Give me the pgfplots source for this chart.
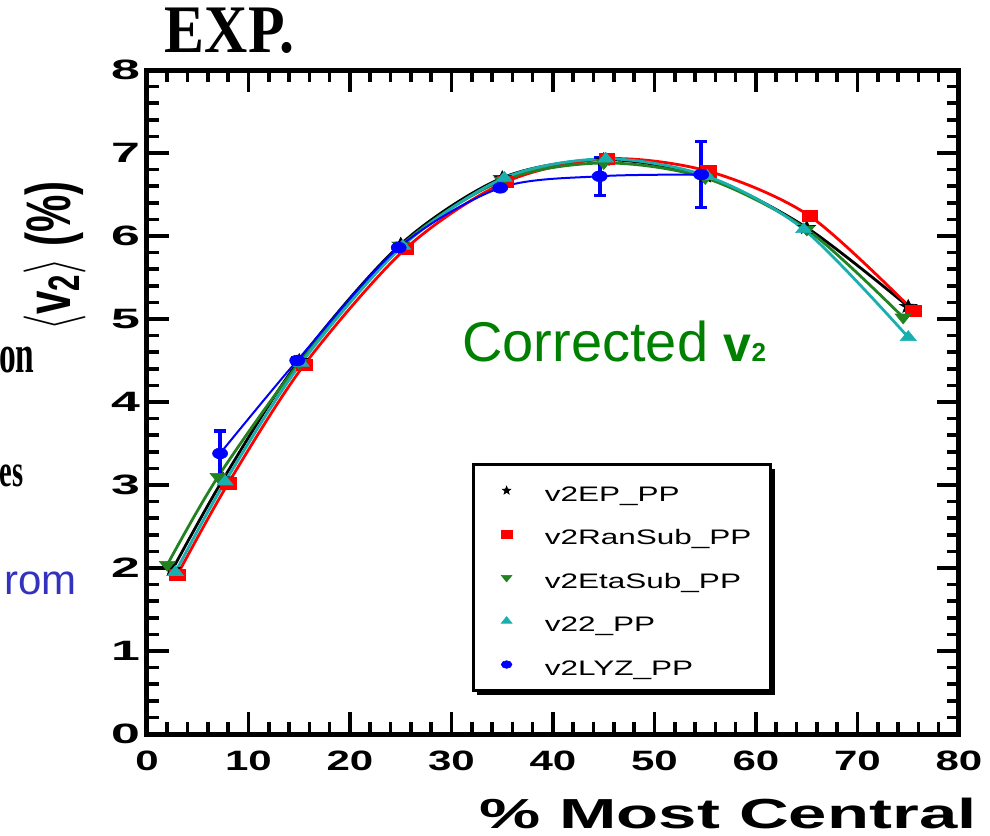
\documentclass[border=0pt]{standalone}
\usepackage{fontspec}
\usepackage{graphicx}
\usepackage{pgfplots}
\pgfplotsset{compat=1.18}
\usetikzlibrary{shadows}
\setmainfont{Liberation Sans}
\newfontfamily\plotsf[FakeStretch=1.5]{Liberation Sans}
\newfontfamily\plotsfy[FakeStretch=1.85]{Liberation Sans}
\newfontfamily\plotsfx[FakeStretch=1.64]{Liberation Sans}
\newfontfamily\serifb[FakeStretch=0.88]{Liberation Serif}
\newfontfamily\serifc[FakeStretch=0.62]{Liberation Serif}
\definecolor{rgreen}{RGB}{34,130,34}
\definecolor{rcyan}{RGB}{25,175,175}
\definecolor{rblue}{RGB}{0,0,255}
\definecolor{slideblue}{RGB}{50,50,190}
\definecolor{corrgreen}{RGB}{0,128,0}
\pgfdeclareplotmark{fstar}{%
  \pgfpathmoveto{\pgfpointpolar{90}{\pgfplotmarksize}}%
  \pgfpathlineto{\pgfpointpolar{126}{0.42\pgfplotmarksize}}%
  \pgfpathlineto{\pgfpointpolar{162}{\pgfplotmarksize}}%
  \pgfpathlineto{\pgfpointpolar{198}{0.42\pgfplotmarksize}}%
  \pgfpathlineto{\pgfpointpolar{234}{\pgfplotmarksize}}%
  \pgfpathlineto{\pgfpointpolar{270}{0.42\pgfplotmarksize}}%
  \pgfpathlineto{\pgfpointpolar{306}{\pgfplotmarksize}}%
  \pgfpathlineto{\pgfpointpolar{342}{0.42\pgfplotmarksize}}%
  \pgfpathlineto{\pgfpointpolar{18}{\pgfplotmarksize}}%
  \pgfpathlineto{\pgfpointpolar{54}{0.42\pgfplotmarksize}}%
  \pgfpathclose\pgfusepathqfillstroke}
\begin{document}
\begin{tikzpicture}
\useasboundingbox (-73.5pt,-50.5pt) rectangle (421.5pt,367pt);
\begin{axis}[
  at={(0pt,0pt)}, anchor=south west,
  scale only axis, width=406pt, height=332pt,
  xmin=0, xmax=80, ymin=0, ymax=8,
  xtick={0,10,...,80}, ytick={0,1,...,8},
  minor x tick num=4, minor y tick num=4,
  tick align=inside,
  major tick length=11pt, minor tick length=6pt,
  axis line style={line width=2.5pt},
  every tick/.style={line width=1.8pt, black},
  xticklabel style={font=\plotsf\bfseries\fontsize{14}{14}\selectfont, yshift=-5pt},
  yticklabel style={font=\plotsfy\bfseries\fontsize{14}{14}\selectfont},
  /pgf/number format/assume math mode=true,
  legend cell align=left,
  legend style={at={(axis cs:32,3.265)}, anchor=north west, draw=black, line width=1.5pt,
    fill=white, font=\plotsf\fontsize{10.5}{10.5}\selectfont,
    inner ysep=6pt, row sep=7.75pt,
    nodes={inner sep=0pt, text height=12.3pt, text depth=1.7pt},
    drop shadow={shadow xshift=2pt, shadow yshift=-2pt, opacity=1, fill=black}},
  legend image code/.code={\path (0pt,0pt) (32.5pt,0pt); \draw[#1] plot coordinates {(13.5pt,0pt)};},
]
\addplot[black, line width=1.4pt, smooth, mark=fstar, mark size=3.5pt, mark options={xscale=1.3, line width=0.3pt}, forget plot]
  coordinates {(2.5,1.98) (7.5,3.07) (15,4.5) (25,5.9) (35,6.7) (45,6.92) (55,6.72) (65,6.1) (75,5.15)};
\addplot[red, line width=1.4pt, smooth, mark=square*, mark size=2.8pt, mark options={xscale=1.4, line width=0.3pt}, forget plot]
  coordinates {(3.0,1.92) (8.0,3.02) (15.5,4.45) (25.5,5.85) (35.3,6.65) (45.3,6.93) (55.3,6.78) (65.3,6.24) (75.5,5.1)};
\addplot[rgreen, line width=1.4pt, smooth, mark=triangle*, mark size=3.3pt, mark options={rotate=180, xscale=1.4, line width=0.3pt}, forget plot]
  coordinates {(2.0,2.04) (7.0,3.1) (15,4.47) (25,5.88) (35,6.67) (45,6.88) (55,6.7) (65,6.08) (74.5,5.02)};
\addplot[rcyan, line width=1.4pt, smooth, mark=triangle*, mark size=3.3pt, mark options={xscale=1.4, line width=0.3pt}, forget plot]
  coordinates {(2.8,1.95) (7.7,3.04) (15.2,4.47) (25.2,5.88) (35.2,6.7) (45.2,6.93) (55.2,6.72) (64.7,6.08) (75,4.78)};
\addplot[rblue, line width=1pt, smooth, mark=*, mark size=2.7pt, mark options={xscale=1.4, line width=0.3pt}, forget plot,
  error bars/.cd, y dir=both, y explicit, error bar style={line width=2pt},
  error mark options={rotate=90, mark size=3pt, line width=1.6pt, rblue}]
  coordinates {(7.2,3.38) +- (0,0.27) (14.8,4.5) +- (0,0.03) (24.8,5.86) +- (0,0.03) (34.8,6.58) +- (0,0.03) (44.6,6.72) +- (0,0.23) (54.6,6.74) +- (0,0.4)};
\addlegendimage{only marks, mark=fstar, black, mark size=2.2pt, line width=0.3pt}
\addlegendentry{v2EP\_PP}
\addlegendimage{only marks, mark=square*, red, mark size=1.9pt, mark options={xscale=1.4}, line width=0.3pt}
\addlegendentry{v2RanSub\_PP\hspace*{6.5pt}}
\addlegendimage{only marks, mark=triangle*, rgreen, mark size=2.2pt, mark options={rotate=180, xscale=1.4}, line width=0.3pt}
\addlegendentry{v2EtaSub\_PP}
\addlegendimage{only marks, mark=triangle*, rcyan, mark size=2.2pt, mark options={xscale=1.4}, line width=0.3pt}
\addlegendentry{v22\_PP}
\addlegendimage{only marks, mark=*, rblue, mark size=1.9pt, mark options={xscale=1.4}, line width=0.3pt}
\addlegendentry{v2LYZ\_PP}
\end{axis}
\node[anchor=base, inner sep=0pt, font=\serifb\bfseries\fontsize{34}{34}\selectfont] at (41.25pt,340.5pt) {EXP.};
\node[anchor=base east, inner sep=0pt, font=\serifc\bfseries\fontsize{27}{27}\selectfont] at (-56pt,180.5pt) {on};
\node[anchor=base east, inner sep=0pt, font=\serifc\bfseries\fontsize{23}{23}\selectfont] at (-61.5pt,123.5pt) {es};
\node[anchor=base east, inner sep=0pt, text=slideblue, font=\fontsize{21}{21}\selectfont] at (-35pt,69.5pt) {rom};
\node[rotate=90, anchor=base, inner sep=0pt] at (-38.5pt,239pt) {\scalebox{1}[1.5]{\fontsize{21}{21}\selectfont\bfseries $\langle$v\textsubscript{2}$\rangle$ (\%)}};
\node[anchor=base east, inner sep=0pt, font=\plotsfx\bfseries\fontsize{21}{21}\selectfont] at (415pt,-47pt) {\% Most Central};
\node[anchor=base west, inner sep=0pt, text=corrgreen, font=\fontsize{28}{28}\selectfont] at (157.5pt,186pt) {Corrected {\bfseries\fontsize{25}{25}\selectfont v\fontsize{13}{13}\selectfont 2}};
\end{tikzpicture}
\end{document}
